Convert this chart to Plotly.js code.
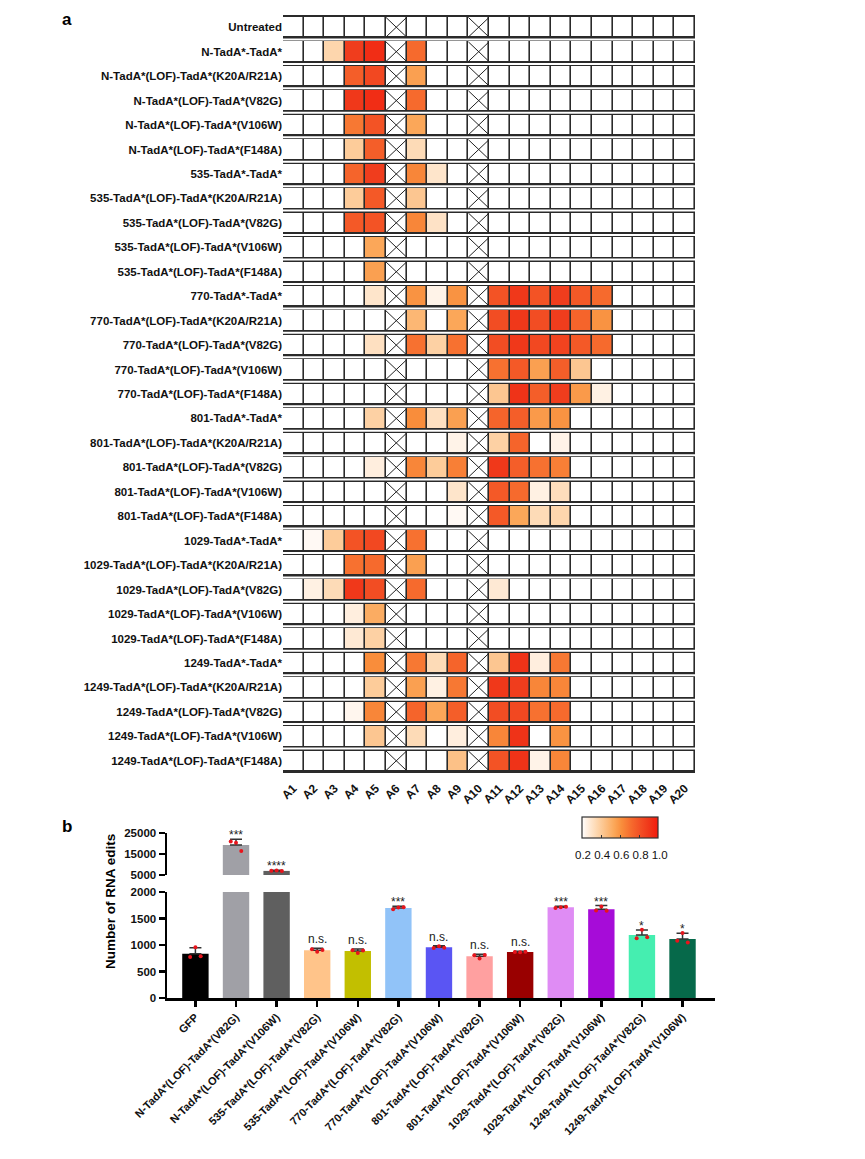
<!DOCTYPE html>
<html><head><meta charset="utf-8">
<script src="https://cdn.plot.ly/plotly-3.0.1.min.js"></script>
<style>html,body{margin:0;padding:0;background:#fff;}#chart{width:865px;height:1159px;}</style>
</head><body><div id="chart"></div>
<script>
// ---------- Panel a: heatmap data ----------
const sampleLabels = [
 'Untreated','N-TadA*-TadA*','N-TadA*(LOF)-TadA*(K20A/R21A)','N-TadA*(LOF)-TadA*(V82G)','N-TadA*(LOF)-TadA*(V106W)','N-TadA*(LOF)-TadA*(F148A)',
 '535-TadA*-TadA*','535-TadA*(LOF)-TadA*(K20A/R21A)','535-TadA*(LOF)-TadA*(V82G)','535-TadA*(LOF)-TadA*(V106W)','535-TadA*(LOF)-TadA*(F148A)',
 '770-TadA*-TadA*','770-TadA*(LOF)-TadA*(K20A/R21A)','770-TadA*(LOF)-TadA*(V82G)','770-TadA*(LOF)-TadA*(V106W)','770-TadA*(LOF)-TadA*(F148A)',
 '801-TadA*-TadA*','801-TadA*(LOF)-TadA*(K20A/R21A)','801-TadA*(LOF)-TadA*(V82G)','801-TadA*(LOF)-TadA*(V106W)','801-TadA*(LOF)-TadA*(F148A)',
 '1029-TadA*-TadA*','1029-TadA*(LOF)-TadA*(K20A/R21A)','1029-TadA*(LOF)-TadA*(V82G)','1029-TadA*(LOF)-TadA*(V106W)','1029-TadA*(LOF)-TadA*(F148A)',
 '1249-TadA*-TadA*','1249-TadA*(LOF)-TadA*(K20A/R21A)','1249-TadA*(LOF)-TadA*(V82G)','1249-TadA*(LOF)-TadA*(V106W)','1249-TadA*(LOF)-TadA*(F148A)'
];
const positionLabels = ['A1','A2','A3','A4','A5','A6','A7','A8','A9','A10','A11','A12','A13','A14','A15','A16','A17','A18','A19','A20'];
const crossedPositions = ['A6','A10'];
// editing fraction per position (0 = no edit); columns A1..A20
const editFraction = [
 [0,0,0,0,0,0,0,0,0,0,0,0,0,0,0,0,0,0,0,0],
 [0,0,0.36,0.88,0.94,0,0.72,0,0,0,0,0,0,0,0,0,0,0,0,0],
 [0,0,0,0.76,0.84,0,0.56,0,0,0,0,0,0,0,0,0,0,0,0,0],
 [0,0,0,0.90,0.94,0,0.72,0,0,0,0,0,0,0,0,0,0,0,0,0],
 [0,0,0,0.68,0.80,0,0.54,0,0,0,0,0,0,0,0,0,0,0,0,0],
 [0,0,0,0.40,0.76,0,0.34,0,0,0,0,0,0,0,0,0,0,0,0,0],
 [0,0,0,0.74,0.88,0,0.64,0.30,0,0,0,0,0,0,0,0,0,0,0,0],
 [0,0,0,0.40,0.78,0,0.42,0,0,0,0,0,0,0,0,0,0,0,0,0],
 [0,0,0,0.78,0.80,0,0.64,0.31,0,0,0,0,0,0,0,0,0,0,0,0],
 [0,0,0,0,0.54,0,0,0,0,0,0,0,0,0,0,0,0,0,0,0],
 [0,0,0,0,0.56,0,0,0,0,0,0,0,0,0,0,0,0,0,0,0],
 [0,0,0,0,0.30,0,0.60,0.24,0.60,0,0.80,0.90,0.80,0.88,0.78,0.72,0,0,0,0],
 [0,0,0,0,0,0,0.48,0,0.54,0,0.82,0.90,0.82,0.88,0.74,0.60,0,0,0,0],
 [0,0,0,0,0.32,0,0.70,0.38,0.70,0,0.82,0.90,0.84,0.86,0.78,0.72,0,0,0,0],
 [0,0,0,0,0,0,0,0,0,0,0.70,0.78,0.56,0.76,0.42,0,0,0,0,0],
 [0,0,0,0,0,0,0,0,0,0,0.42,0.92,0.76,0.88,0.58,0.25,0,0,0,0],
 [0,0,0,0,0.38,0,0.62,0.32,0.56,0,0.74,0.76,0.58,0.60,0,0,0,0,0,0],
 [0,0,0,0,0,0,0,0,0.24,0,0.38,0.74,0,0.24,0,0,0,0,0,0],
 [0,0,0,0,0.26,0,0.64,0.40,0.66,0,0.90,0.76,0.70,0.66,0,0,0,0,0,0],
 [0,0,0,0,0,0,0,0,0.30,0,0.78,0.72,0.25,0.33,0,0,0,0,0,0],
 [0,0,0,0,0,0,0,0,0.22,0,0.78,0.54,0.34,0.36,0,0,0,0,0,0],
 [0,0.22,0.40,0.80,0.84,0,0.70,0,0,0,0,0,0,0,0,0,0,0,0,0],
 [0,0,0,0.70,0.72,0,0.56,0,0,0,0,0,0,0,0,0,0,0,0,0],
 [0,0.25,0.34,0.90,0.82,0,0.72,0,0,0,0.28,0,0,0,0,0,0,0,0,0],
 [0,0,0,0.26,0.52,0,0,0,0,0,0,0,0,0,0,0,0,0,0,0],
 [0,0,0,0.28,0.38,0,0,0,0,0,0,0,0,0,0,0,0,0,0,0],
 [0,0,0,0,0.62,0,0.68,0.34,0.74,0,0.42,0.92,0.26,0.68,0,0,0,0,0,0],
 [0,0,0,0,0.40,0,0.56,0.25,0.68,0,0.90,0.88,0.64,0.64,0,0,0,0,0,0],
 [0,0,0,0.23,0.64,0,0.74,0.54,0.76,0,0.82,0.84,0.70,0.72,0,0,0,0,0,0],
 [0,0,0,0,0.42,0,0.34,0,0.26,0,0.64,0.92,0,0.60,0,0,0,0,0,0],
 [0,0,0,0,0,0,0,0,0.44,0,0.80,0.92,0.24,0.64,0,0,0,0,0,0]
];
const colorbarTickLabels = ['0.2','0.4','0.6','0.8','1.0'];

// ---------- Panel b: bar data ----------
const barGroups = ['GFP','N-TadA*(LOF)-TadA*(V82G)','N-TadA*(LOF)-TadA*(V106W)','535-TadA*(LOF)-TadA*(V82G)','535-TadA*(LOF)-TadA*(V106W)',
 '770-TadA*(LOF)-TadA*(V82G)','770-TadA*(LOF)-TadA*(V106W)','801-TadA*(LOF)-TadA*(V82G)','801-TadA*(LOF)-TadA*(V106W)',
 '1029-TadA*(LOF)-TadA*(V82G)','1029-TadA*(LOF)-TadA*(V106W)','1249-TadA*(LOF)-TadA*(V82G)','1249-TadA*(LOF)-TadA*(V106W)'];
const barMeans = [835, 19300, 6950, 900, 885, 1700, 956, 787, 869, 1712, 1673, 1187, 1115];
const barSD    = [115, 2700, 300, 37, 38, 31, 31, 38, 12, 19, 72, 96, 105];
const replicates = [[775,958,790],[20900,20300,16400],[7000,7150,6900],[920,875,905],[900,850,895],[1675,1706,1710],
 [945,975,950],[805,745,810],[870,862,875],[1700,1712,1722],[1650,1725,1645],[1126,1290,1145],[1080,1225,1045]];
const significance = ['','***','****','n.s.','n.s.','***','n.s.','n.s.','n.s.','***','***','*','*'];
const barColors = ['#000000','#a0a0a6','#5f5f5f','#ffc48a','#c2bf00','#91c3f8','#5a55f3','#ffa0a0','#990000','#df8cf4','#a60cd8','#45eeb0','#06694a'];
const upperTicks = [5000, 15000, 25000];
const lowerTicks = [0, 500, 1000, 1500, 2000];

// ---------- helpers ----------
const W = 865, H = 1159;
const px = v => v / W;          // page px -> paper x
const py = v => 1 - v / H;      // page px -> paper y
const FONT = 'Liberation Sans, Arial, sans-serif';

const colIdx = positionLabels.map((_, i) => i);
const rowIdx = sampleLabels.map((_, i) => i);

const heatColorscale = [
 [0, '#ffffff'], [0.05, '#fff3e8'], [0.2, '#fdd6ad'], [0.42, '#fba85a'], [0.52, '#f98e3c'],
 [0.65, '#f66a2d'], [0.78, '#f24c23'], [0.9, '#ef3318'], [1, '#f51a0c']
];

const traces = [];
traces.push({
  type: 'heatmap', x: colIdx, y: rowIdx, z: editFraction, zmin: 0.2, zmax: 1.0,
  colorscale: heatColorscale, xgap: 1.6, ygap: 5, xaxis: 'x', yaxis: 'y', hoverinfo: 'skip',
  showscale: true,
  colorbar: {orientation: 'h', x: px(620), xanchor: 'center', xref: 'paper', y: py(817), yanchor: 'top', yref: 'paper',
    len: 76, lenmode: 'pixels', thickness: 21, thicknessmode: 'pixels', outlinewidth: 1.2, outlinecolor: '#333',
    xpad: 0, ypad: 0, showticklabels: false, ticks: 'inside', tickvals: [0.4, 0.6, 0.8], ticklen: 3, tickcolor: '#333'}
});

// crossed cells
const xs = [], ys = [];
const inset = 0.1;
crossedPositions.forEach(p => {
  const c = positionLabels.indexOf(p);
  rowIdx.forEach(r => {
    xs.push(c - 0.5, c + 0.5, null, c - 0.5, c + 0.5, null);
    ys.push(r - 0.5 + inset, r + 0.5 - inset, null, r + 0.5 - inset, r - 0.5 + inset, null);
  });
});
traces.push({type: 'scatter', mode: 'lines', x: xs, y: ys, xaxis: 'x', yaxis: 'y', line: {color: '#222', width: 1}, hoverinfo: 'skip', showlegend: false, cliponaxis: true});

// bars
const barIdx = barGroups.map((_, i) => i);
const zeros = barSD.map(() => 0);
['y2', 'y3'].forEach(ax => {
  traces.push({type: 'bar', x: barIdx, y: barMeans, xaxis: 'x2', yaxis: ax, width: 0.65,
    marker: {color: barColors, line: {width: 0}}, hoverinfo: 'skip', showlegend: false,
    error_y: {type: 'data', symmetric: false, array: barSD, arrayminus: zeros, color: '#333', thickness: 1.5, width: 6}});
});
const jitter = [-0.13, 0, 0.13];
const dotX = [], dotY = [];
replicates.forEach((vals, i) => vals.forEach((v, k) => { dotX.push(i + jitter[k]); dotY.push(v); }));
['y2', 'y3'].forEach(ax => {
  traces.push({type: 'scatter', mode: 'markers', x: dotX, y: dotY, xaxis: 'x2', yaxis: ax,
    marker: {color: '#e8141c', size: 4}, hoverinfo: 'skip', showlegend: false});
});

// shapes
const shapes = [];
shapes.push({type: 'rect', xref: 'x domain', yref: 'y domain', x0: 0, x1: 1, y0: 0, y1: 1, fillcolor: '#2a2a2a', line: {width: 0}, layer: 'below'});
for (let r = 0; r < rowIdx.length - 1; r++) {
  shapes.push({type: 'line', xref: 'x domain', yref: 'y', x0: 0, x1: 1, y0: r + 0.5, y1: r + 0.5, line: {color: '#ffffff', width: 2}});
}

// annotations
const annotations = [];
const ann = (o) => annotations.push(Object.assign({xref: 'paper', yref: 'paper', showarrow: false, xanchor: 'center', yanchor: 'middle'}, o));
ann({text: 'a', x: px(67), y: py(19), font: {family: FONT, size: 17, weight: 'bold', color: '#000'}});
ann({text: 'b', x: px(67), y: py(827), font: {family: FONT, size: 17, weight: 'bold', color: '#000'}});
ann({text: colorbarTickLabels.join(' '), x: px(621), y: py(855), font: {family: FONT, size: 11.5, color: '#111'}});
ann({text: 'Number of RNA edits', textangle: -90, x: px(110), y: py(902), font: {family: FONT, size: 13.5, weight: 'bold', color: '#000'}});
significance.forEach((s, i) => {
  if (!s) return;
  const top = barMeans[i] + barSD[i];
  annotations.push({text: s, x: i, y: top, xref: 'x2', yref: barMeans[i] > 2000 ? 'y3' : 'y2', xanchor: 'center', yanchor: 'bottom',
    yshift: s.charAt(0) === '*' ? -5 : 0, showarrow: false, font: {family: FONT, size: 12, color: '#222'}});
});

const tickFont = {family: FONT, size: 11.5, weight: 'bold', color: '#111'};
const layout = {
  width: W, height: H, margin: {l: 0, r: 0, t: 0, b: 0}, paper_bgcolor: '#fff', plot_bgcolor: 'rgba(0,0,0,0)',
  showlegend: false, font: {family: FONT},
  xaxis: {domain: [px(283), px(695)], range: [-0.5, 19.5], tickvals: colIdx, ticktext: positionLabels, tickangle: -45,
    showgrid: false, zeroline: false, showline: false, ticks: '', ticklabelstandoff: 5, tickfont: {family: FONT, size: 12, weight: 'bold', color: '#111'},
    anchor: 'y', fixedrange: true, automargin: false},
  yaxis: {domain: [py(773), py(15)], range: [30.5, -0.5], tickvals: rowIdx, ticktext: sampleLabels,
    showgrid: false, zeroline: false, showline: false, ticks: '', tickfont: tickFont, anchor: 'x', fixedrange: true, automargin: false},
  xaxis2: {domain: [px(167), px(715)], range: [-0.7, 12.8], tickvals: barIdx, ticktext: barGroups, tickangle: -45,
    showgrid: false, zeroline: false, showline: true, linewidth: 2.5, linecolor: '#000', ticks: 'outside', ticklen: 6, tickwidth: 2.5, tickcolor: '#000',
    tickfont: {family: FONT, size: 11, weight: 'bold', color: '#111'}, anchor: 'y2', fixedrange: true, automargin: false},
  yaxis2: {domain: [py(998), py(892)], range: [0, 2000], tickvals: lowerTicks, tickformat: 'd',
    showgrid: false, zeroline: false, showline: true, linewidth: 2.5, linecolor: '#000', ticks: 'outside', ticklen: 6, tickwidth: 2.5, tickcolor: '#000',
    tickfont: tickFont, anchor: 'x2', fixedrange: true, automargin: false},
  yaxis3: {domain: [py(875), py(833)], range: [5000, 25000], tickvals: upperTicks, tickformat: 'd',
    showgrid: false, zeroline: false, showline: true, linewidth: 2.5, linecolor: '#000', ticks: 'outside', ticklen: 6, tickwidth: 2.5, tickcolor: '#000',
    tickfont: tickFont, anchor: 'x2', fixedrange: true, automargin: false},
  shapes: shapes, annotations: annotations
};
Plotly.newPlot('chart', traces, layout, {staticPlot: true, displayModeBar: false});
</script></body></html>
